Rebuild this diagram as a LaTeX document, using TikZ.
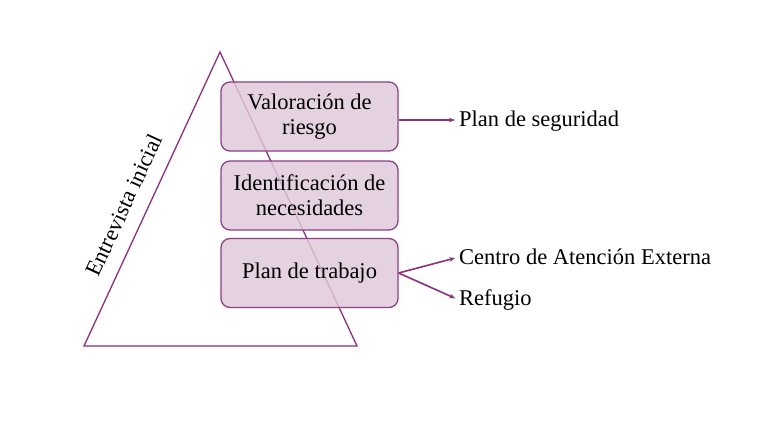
\documentclass[tikz,border=0pt]{standalone}
\usepackage{fontspec}
\setmainfont{Liberation Serif}
\usetikzlibrary{arrows.meta}
\definecolor{pborder}{HTML}{8E3F86}
\definecolor{pfill}{HTML}{DFC9DB}
\definecolor{pline}{HTML}{8B2F83}
\tikzset{
  stepbox/.style={draw=pborder, line width=1.3pt, fill=pfill, fill opacity=0.82, text opacity=1,
    rounded corners=9pt, minimum width=177pt, minimum height=69pt, align=center,
    font=\fontsize{22.5}{25}\selectfont, inner sep=0pt},
  lbl/.style={anchor=west, font=\fontsize{22.5}{25}\selectfont, inner sep=0pt},
  conn/.style={draw=pline, line width=1.6pt, shorten >=4pt, -{Stealth[length=6pt,width=4.5pt]}},
}
\begin{document}
\begin{tikzpicture}[x=1pt,y=-1pt]
\useasboundingbox (0,0) rectangle (768,433);
\fill[white] (0,0) rectangle (768,433);
\coordinate (apex) at (220,52);
\coordinate (bl) at (84,346);
\coordinate (br) at (357,346);
\draw[pline, line width=1.3pt] (apex) -- (bl) -- (br) -- cycle;
\node[rotate=65.2, font=\fontsize{22.5}{25}\selectfont, inner sep=0pt] (tri) at (124,205) {Entrevista inicial};
\node[stepbox] (b1) at (309.5,116.5) {Valoración de\\riesgo};
\node[stepbox] (b2) at (309.5,195.5) {Identificación de\\necesidades};
\node[stepbox] (b3) at (309.5,273) {Plan de trabajo};
\node[lbl] (t1) at (459,121) {Plan de seguridad};
\node[lbl] (t2) at (459,257) {Centro de Atención Externa};
\node[lbl] (t3) at (459,300) {Refugio};
\coordinate (s3) at (b3.east);
\draw[conn] (b1.east |- 0,120) -- (t1.west |- 0,120);
\draw[conn] (s3) -- (t2.west);
\draw[conn] (s3) -- (t3.west);
\end{tikzpicture}
\end{document}
